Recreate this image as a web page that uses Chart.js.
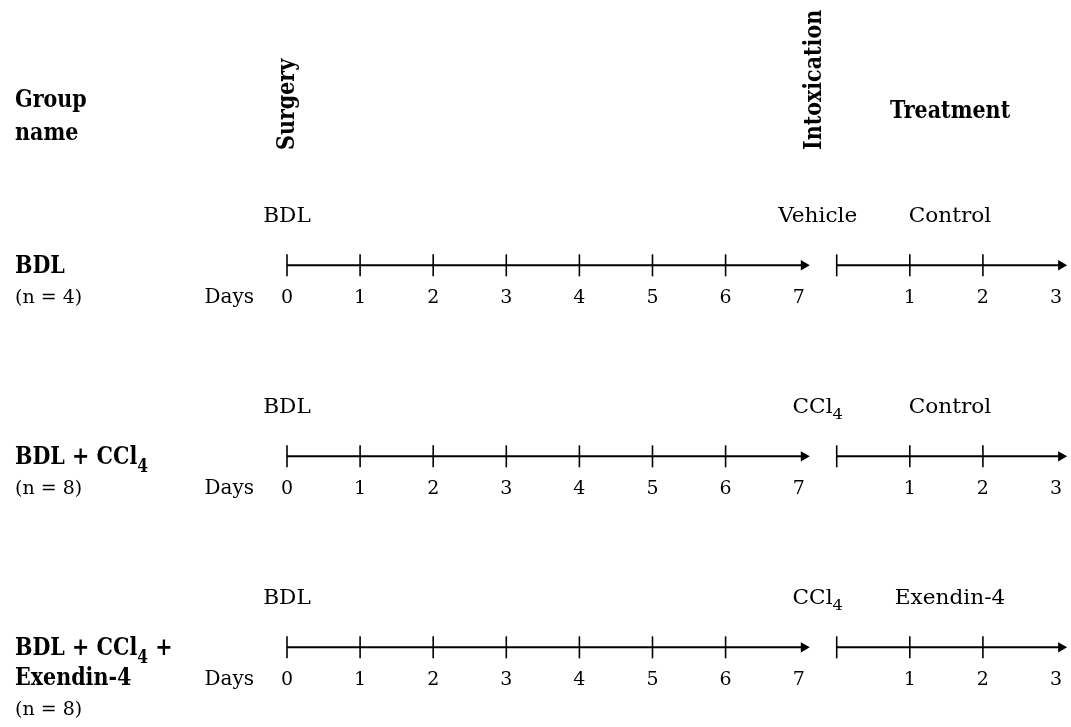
<!DOCTYPE html>
<html>
<head>
<meta charset="utf-8">
<script src="https://cdn.jsdelivr.net/npm/chart.js@4.4.0/dist/chart.umd.min.js"></script>
<style>
    html, body { margin: 0; padding: 0; background: #fff; }
    canvas { display: block; }
</style>
</head>
<body>
<canvas id="timeline" width="1071" height="727"></canvas>
<script>
// chart data
const groupNames = [['BDL'], ['BDL + CCl_4'], ['BDL + CCl_4 +', 'Exendin-4']];
const groupSizes = [4, 8, 8];
const surgeryLabels = ['BDL', 'BDL', 'BDL'];
const intoxicationLabels = ['Vehicle', 'CCl_4', 'CCl_4'];
const treatmentLabels = ['Control', 'Control', 'Exendin-4'];
const surgeryDays = [0, 1, 2, 3, 4, 5, 6, 7];
const treatmentDays = [0, 1, 2, 3];
const phaseTitles = ['Surgery', 'Intoxication', 'Treatment'];
const headerLines = ['Group', 'name'];
const daysLabel = 'Days';

// layout
const TREATMENT_START = 7.52;   // treatment day 0 sits after the gap
const ARROW_PAST = 0.07;
const FONT = "'DejaVu Serif', 'Liberation Serif', serif";
const BOLD_SCALE = 0.86;
const LABEL_SCALE = 1.08;

const lastSurgery = surgeryDays[surgeryDays.length - 1];
const lastTreatment = TREATMENT_START + treatmentDays[treatmentDays.length - 1];

const datasets = [];
groupNames.forEach((name, row) => {
    const segments = [
        [surgeryDays[0], lastSurgery],
        [TREATMENT_START + treatmentDays[0], lastTreatment]
    ];
    segments.forEach(([from, to]) => {
        datasets.push({
            type: 'line',
            data: [{x: from, y: row}, {x: to + ARROW_PAST, y: row}],
            borderColor: '#000',
            borderWidth: 2,
            pointRadius: 0
        });
    });
    const ticks = surgeryDays.slice(0, -1).map(d => ({x: d, y: row}))
        .concat(treatmentDays.slice(0, -1).map(t => ({x: TREATMENT_START + t, y: row})));
    datasets.push({
        type: 'scatter',
        data: ticks,
        pointStyle: 'line',
        pointRotation: 90,
        pointRadius: 11,
        pointBorderColor: '#000',
        pointBorderWidth: 1.6
    });
    datasets.push({
        type: 'scatter',
        data: [{x: lastSurgery + ARROW_PAST, y: row}, {x: lastTreatment + ARROW_PAST, y: row}],
        pointStyle: 'triangle',
        pointRotation: 90,
        pointRadius: 6,
        pointBackgroundColor: '#000',
        pointBorderColor: '#000',
        pointBorderWidth: 0
    });
});

function splitSub(str) {
    const out = [];
    const re = /_(.)/g;
    let last = 0, m;
    while ((m = re.exec(str))) {
        if (m.index > last) out.push({t: str.slice(last, m.index), sub: false});
        out.push({t: m[1], sub: true});
        last = re.lastIndex;
    }
    if (last < str.length) out.push({t: str.slice(last), sub: false});
    return out;
}

function drawRich(ctx, str, x, y, size, bold, align, stretch) {
    const weight = bold ? 'bold ' : '';
    const parts = splitSub(str);
    const sx = stretch || (bold ? BOLD_SCALE : 1);
    let width = 0;
    parts.forEach(p => {
        ctx.font = weight + Math.round(p.sub ? size * 0.75 : size) + 'px ' + FONT;
        p.w = ctx.measureText(p.t).width;
        width += p.w;
    });
    let start = 0;
    if (align === 'center') start = -width / 2;
    if (align === 'right') start = -width;
    ctx.save();
    ctx.translate(x, y);
    ctx.scale(sx, 1);
    ctx.textAlign = 'left';
    ctx.textBaseline = 'alphabetic';
    ctx.fillStyle = '#000';
    let cx = start;
    parts.forEach(p => {
        ctx.font = weight + Math.round(p.sub ? size * 0.75 : size) + 'px ' + FONT;
        ctx.fillText(p.t, cx, p.sub ? size * 0.3 : 0);
        cx += p.w;
    });
    ctx.restore();
}

const textPlugin = {
    id: 'timelineText',
    afterDatasetsDraw(chart) {
        const ctx = chart.ctx;
        const xs = chart.scales.x;
        const ys = chart.scales.y;
        const top = chart.chartArea.top;
        const gapX = xs.getPixelForValue((lastSurgery + TREATMENT_START) / 2);
        const treatMidX = xs.getPixelForValue(TREATMENT_START + 1.55);

        // headers
        headerLines.forEach((line, i) => drawRich(ctx, line, 15, top + 107 + i * 33, 24, true, 'left'));
        drawRich(ctx, phaseTitles[2], treatMidX, top + 118, 24, true, 'center');
        [[phaseTitles[0], xs.getPixelForValue(surgeryDays[0]) + 7], [phaseTitles[1], gapX + 3]].forEach(([title, px]) => {
            ctx.save();
            ctx.translate(px, top + 150);
            ctx.rotate(-Math.PI / 2);
            drawRich(ctx, title, 0, 0, 24, true, 'left');
            ctx.restore();
        });

        groupNames.forEach((lines, row) => {
            const py = ys.getPixelForValue(row);
            // group name on the left
            lines.forEach((line, i) => drawRich(ctx, line, 15, py + 8 + i * 30, 24, true, 'left'));
            drawRich(ctx, '(n = ' + groupSizes[row] + ')', 15, py + 8 + lines.length * 30, 19, false, 'left');

            // phase labels above the axis
            drawRich(ctx, surgeryLabels[row], xs.getPixelForValue(surgeryDays[0]), py - 43, 20, false, 'center', LABEL_SCALE);
            drawRich(ctx, intoxicationLabels[row], gapX, py - 43, 20, false, 'center', LABEL_SCALE);
            drawRich(ctx, treatmentLabels[row], treatMidX, py - 43, 20, false, 'center', LABEL_SCALE);

            // day numbers under the axis
            drawRich(ctx, daysLabel, xs.getPixelForValue(surgeryDays[0]) - 33, py + 38, 20, false, 'right');
            surgeryDays.forEach(d => drawRich(ctx, String(d), xs.getPixelForValue(d), py + 38, 19, false, 'center'));
            treatmentDays.slice(1).forEach(t => drawRich(ctx, String(t), xs.getPixelForValue(TREATMENT_START + t), py + 38, 19, false, 'center'));
        });
    }
};

new Chart(document.getElementById('timeline'), {
    type: 'scatter',
    data: {datasets: datasets},
    options: {
        responsive: false,
        animation: false,
        events: [],
        layout: {padding: 0, autoPadding: false},
        plugins: {legend: {display: false}, tooltip: {enabled: false}},
        scales: {
            x: {type: 'linear', display: false, min: -3.926, max: 10.725},
            y: {type: 'linear', display: false, reverse: true, min: -1.389, max: 2.417}
        }
    },
    plugins: [textPlugin]
});
</script>
</body>
</html>
